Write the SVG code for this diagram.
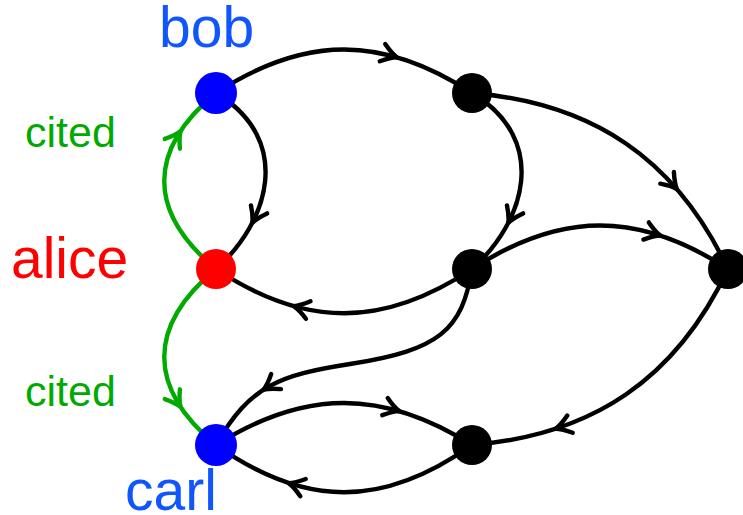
<svg xmlns="http://www.w3.org/2000/svg" width="743" height="515" viewBox="0 0 743 515">
<style>
.e{fill:none;stroke:#000;stroke-width:4.4;stroke-linecap:round}
.g{fill:none;stroke:#00aa00;stroke-width:4.4;stroke-linecap:round}
.m{fill:none;stroke:none}
.lbl{font-family:"Liberation Sans",Arial,sans-serif;font-size:57px}
.cit{font-family:"Liberation Sans",Arial,sans-serif;font-size:43px;fill:#00aa00}
</style>
<defs>
<marker id="ab" markerUnits="userSpaceOnUse" markerWidth="30" markerHeight="30" refX="0" refY="0" orient="auto" overflow="visible">
<path d="M-15,-9 Q-6,-2 0,0 Q-6,2 -15,9" fill="none" stroke="#000" stroke-width="4.4" stroke-linecap="round" stroke-linejoin="round"/>
</marker>
<marker id="ag" markerUnits="userSpaceOnUse" markerWidth="30" markerHeight="30" refX="0" refY="0" orient="auto" overflow="visible">
<path d="M-15,-9 Q-6,-2 0,0 Q-6,2 -15,9" fill="none" stroke="#00aa00" stroke-width="4.4" stroke-linecap="round" stroke-linejoin="round"/>
</marker>
</defs>
<rect width="743" height="515" fill="#fff"/>
<g id="connectors">
<path class="e" d="M216,93 C305,35 383,35 472,93"/>
<path class="m" d="M394.9,56.6 L396.8,57.2" marker-end="url(#ab)"/>
<path class="e" d="M216,93 C294,140 269,222 216,269"/>
<path class="m" d="M253.2,221 L252.3,222.8" marker-end="url(#ab)"/>
<path class="g" d="M216,269 C147,212 147,150 216,93"/>
<path class="m" d="M179.4,132.9 L180.5,131.2" marker-end="url(#ag)"/>
<path class="g" d="M216,269 C147,326 147,388 216,445"/>
<path class="m" d="M179.4,405.1 L180.5,406.8" marker-end="url(#ag)"/>
<path class="e" d="M472,93 C550,140 525,222 472,269"/>
<path class="m" d="M509.2,221 L508.3,222.8" marker-end="url(#ab)"/>
<path class="e" d="M472,93 C593,103 676,159 728,269"/>
<path class="m" d="M675.6,187.6 L676.9,189.1" marker-end="url(#ab)"/>
<path class="e" d="M472,269 C561,211 639,211 728,269"/>
<path class="m" d="M658.5,234.9 L660.4,235.5" marker-end="url(#ab)"/>
<path class="e" d="M472,269 C383,328 305,328 216,269"/>
<path class="m" d="M295.6,306.7 L293.7,306.2" marker-end="url(#ab)"/>
<path class="e" d="M472,269 C462,330 440,350 350,364 C280,375 250,385 216,445"/>
<path class="m" d="M265.2,388.6 L263.5,389.7" marker-end="url(#ab)"/>
<path class="e" d="M216,445 C305,389 383,389 472,445"/>
<path class="m" d="M397.4,410.5 L399.3,411.1" marker-end="url(#ab)"/>
<path class="e" d="M472,445 C383,508 305,508 216,445"/>
<path class="m" d="M290.6,483.7 L288.7,483.1" marker-end="url(#ab)"/>
<path class="e" d="M728,269 C676,379 593,435 472,445"/>
<path class="m" d="M557.6,428.1 L555.7,428.7" marker-end="url(#ab)"/>
<text class="cit" x="25" y="147">cited</text>
<text class="cit" x="25" y="406">cited</text>
</g>
<g id="bob">
<circle cx="216" cy="93" r="21" fill="#0000ff"/>
<text class="lbl" x="159" y="47" fill="#1155ff">bob</text>
</g>
<g id="alice">
<circle cx="216" cy="269" r="20" fill="#ff0000"/>
<text class="lbl" x="11" y="278" fill="#ff0000">alice</text>
</g>
<g id="carl">
<circle cx="216" cy="445" r="21" fill="#0000ff"/>
<text class="lbl" x="125" y="510" fill="#1155ff">carl</text>
</g>
<g id="n1"><circle cx="472" cy="93" r="20" fill="#000"/></g>
<g id="n2"><circle cx="472" cy="269" r="20" fill="#000"/></g>
<g id="n3"><circle cx="728" cy="269" r="20" fill="#000"/></g>
<g id="n4"><circle cx="472" cy="445" r="20" fill="#000"/></g>
</svg>
